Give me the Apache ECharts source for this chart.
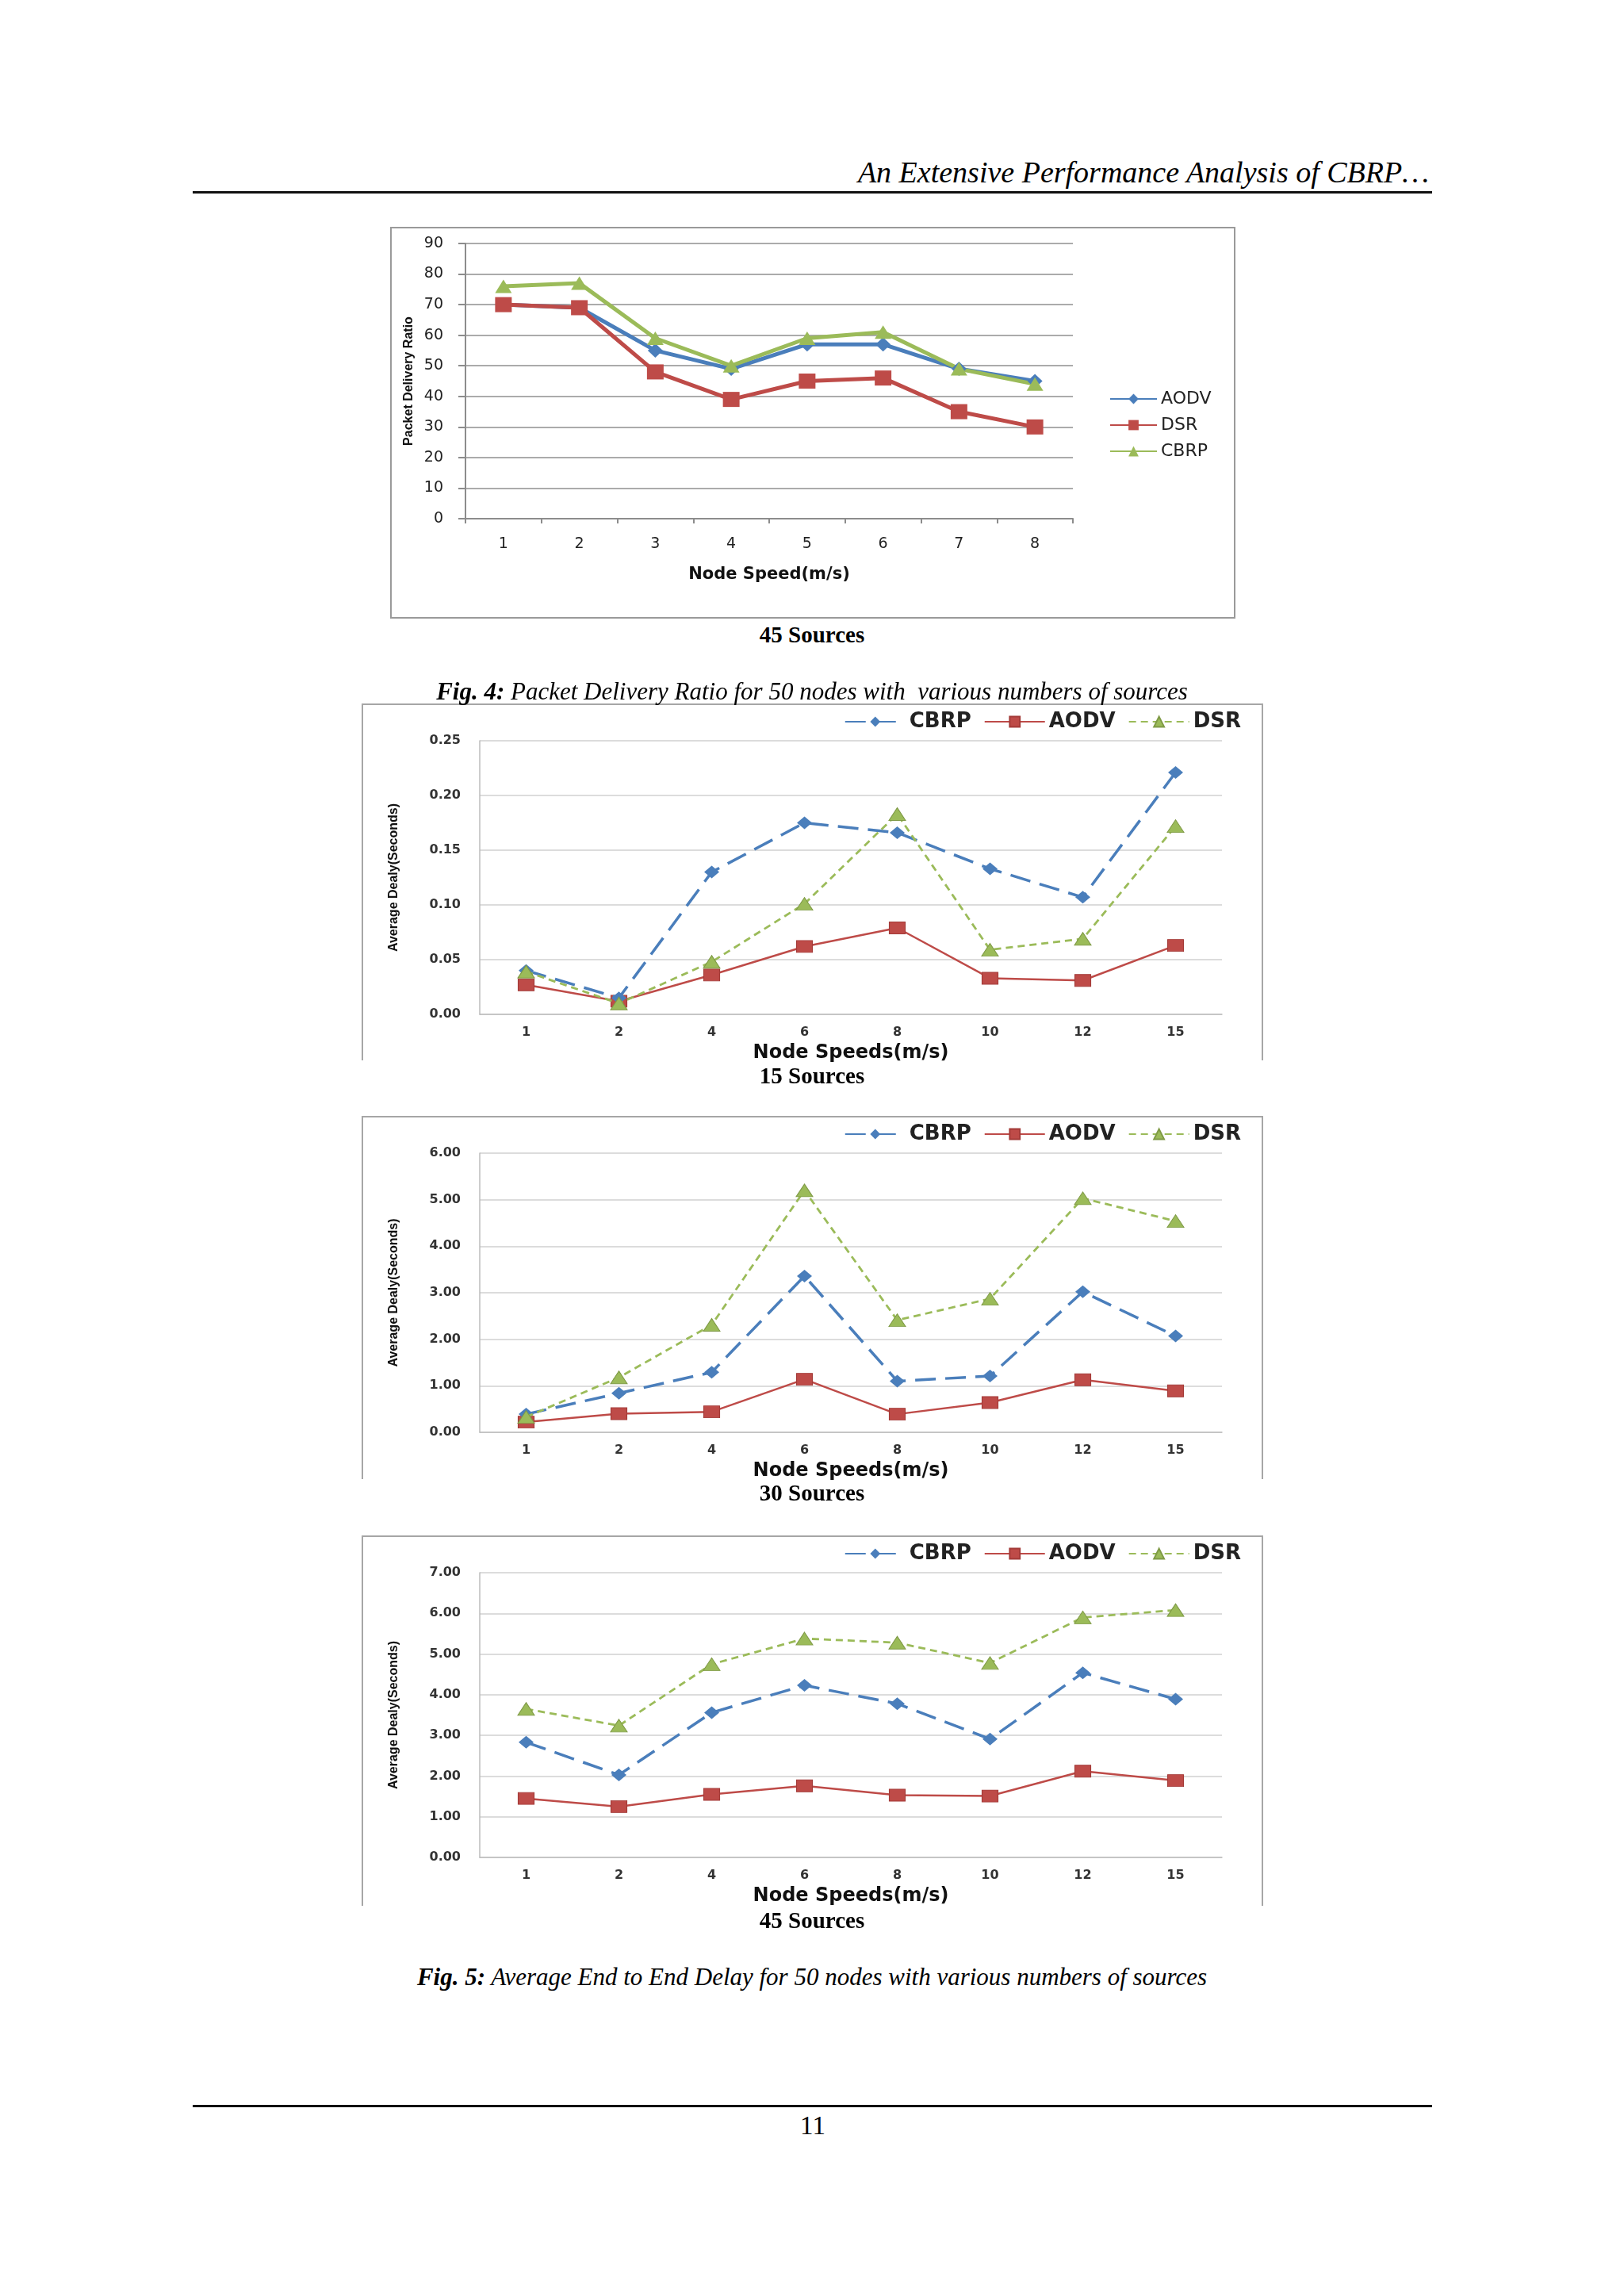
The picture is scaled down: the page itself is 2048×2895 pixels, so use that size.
<!DOCTYPE html>
<html>
<head>
<meta charset="utf-8">
<script src="https://cdn.jsdelivr.net/npm/echarts@6/dist/echarts.min.js"></script>
<style>
  html, body { margin:0; padding:0; background:#ffffff; }
  #page { position:relative; width:2048px; height:2895px; background:#ffffff; overflow:hidden; }
  .chart { position:absolute; }
  .txt { position:absolute; white-space:pre; font-family:"Liberation Serif","Times New Roman",serif; color:#000; line-height:1; }
  .rule { position:absolute; background:#111; }
</style>
</head>
<body>
<div id="page">
  <div class="chart" id="c1" style="left:492px; top:286px; width:1066px; height:494px;"></div>
  <div class="chart" id="c2" style="left:456px; top:887px; width:1137px; height:470px;"></div>
  <div class="chart" id="c3" style="left:456px; top:1407px; width:1137px; height:470px;"></div>
  <div class="chart" id="c4" style="left:456px; top:1936px; width:1137px; height:480px;"></div>

  <div class="txt" id="hdr" style="right:246px; top:198px; font-size:38px; font-style:italic;">An Extensive Performance Analysis of CBRP…</div>
  <div class="rule" style="left:243px; top:241px; width:1563px; height:3px;"></div>

  <div class="txt cap" style="left:0; width:2048px; text-align:center; top:786px; font-size:29px; font-weight:bold;">45 Sources</div>
  <div class="txt" style="left:0; width:2048px; text-align:center; top:856px; font-size:31px; font-style:italic;"><b>Fig. 4:</b> Packet Delivery Ratio for 50 nodes with  various numbers of sources</div>

  <div class="txt" style="left:0; width:2048px; text-align:center; top:1342px; font-size:29px; font-weight:bold;">15 Sources</div>
  <div class="txt" style="left:0; width:2048px; text-align:center; top:1868px; font-size:29px; font-weight:bold;">30 Sources</div>
  <div class="txt" style="left:0; width:2048px; text-align:center; top:2407px; font-size:29px; font-weight:bold;">45 Sources</div>
  <div class="txt" style="left:0; width:2048px; text-align:center; top:2477px; font-size:31px; font-style:italic;"><b>Fig. 5:</b> Average End to End Delay for 50 nodes with various numbers of sources</div>

  <div class="rule" style="left:243px; top:2654px; width:1563px; height:3px;"></div>
  <div class="txt" style="left:0; width:2050px; text-align:center; top:2664px; font-size:33px;">11</div>
</div>
<script>
// ---------- data ----------
const pdrCategories = ['1', '2', '3', '4', '5', '6', '7', '8'];
const pdrAODV = [70, 69, 55, 49, 57, 57, 49, 45];
const pdrDSR  = [70, 69, 48, 39, 45, 46, 35, 30];
const pdrCBRP = [76, 77, 59, 50, 59, 61, 49, 44];

const speedCategories = ['1', '2', '4', '6', '8', '10', '12', '15'];

const delay15CBRP = [0.040, 0.015, 0.130, 0.175, 0.166, 0.133, 0.107, 0.221];
const delay15AODV = [0.027, 0.012, 0.036, 0.062, 0.079, 0.033, 0.031, 0.063];
const delay15DSR  = [0.039, 0.010, 0.048, 0.101, 0.183, 0.059, 0.069, 0.172];

const delay30CBRP = [0.39, 0.84, 1.29, 3.36, 1.10, 1.21, 3.02, 2.07];
const delay30AODV = [0.22, 0.40, 0.44, 1.14, 0.39, 0.64, 1.13, 0.89];
const delay30DSR  = [0.33, 1.18, 2.31, 5.20, 2.41, 2.87, 5.03, 4.54];

const delay45CBRP = [2.83, 2.03, 3.56, 4.23, 3.78, 2.91, 4.54, 3.89];
const delay45AODV = [1.45, 1.25, 1.55, 1.76, 1.53, 1.51, 2.12, 1.89];
const delay45DSR  = [3.65, 3.24, 4.75, 5.38, 5.28, 4.78, 5.90, 6.08];

const pdrAxis = { min: 0, max: 90, interval: 10 };
const delay15Axis = { min: 0, max: 0.25, interval: 0.05 };
const delay30Axis = { min: 0, max: 6, interval: 1 };
const delay45Axis = { min: 0, max: 7, interval: 1 };

// ---------- styles ----------
const BLUE = '#4A7EBB', RED = '#BE4B48', GREEN = '#9BBB59';
const SANS = '"DejaVu Sans", Verdana, sans-serif';

// ---------- chart 1: packet delivery ratio ----------
(function () {
  const el = document.getElementById('c1');
  const chart = echarts.init(el, null, { renderer: 'canvas' });
  const W = 1066, H = 494;
  chart.setOption({
    animation: false,
    backgroundColor: 'transparent',
    graphic: [{
      type: 'rect', shape: { x: 1, y: 1, width: W - 2, height: H - 2 },
      style: { fill: 'none', stroke: '#9a9a9a', lineWidth: 2 }, silent: true
    }],
    grid: { left: 95, top: 21, width: 766, height: 347, containLabel: false, outerBoundsMode: 'none' },
    legend: {
      orient: 'vertical', left: 902, top: 201, itemWidth: 59, itemHeight: 16, itemGap: 11,
      textStyle: { fontSize: 22, fontFamily: SANS, color: '#222' },
      data: ['AODV', 'DSR', 'CBRP']
    },
    xAxis: {
      type: 'category', data: pdrCategories, boundaryGap: true,
      axisLine: { lineStyle: { color: '#8c8c8c', width: 2 } },
      axisTick: { show: true, length: 6, lineStyle: { color: '#8c8c8c', width: 2 } },
      axisLabel: { margin: 23, fontSize: 19, fontFamily: SANS, color: '#222' },
      name: 'Node Speed(m/s)', nameLocation: 'middle', nameGap: 60,
      nameTextStyle: { fontSize: 21, fontWeight: 'bold', fontFamily: SANS, color: '#111' }
    },
    yAxis: {
      type: 'value', min: pdrAxis.min, max: pdrAxis.max, interval: pdrAxis.interval,
      axisLine: { show: true, lineStyle: { color: '#8c8c8c', width: 2 } },
      axisTick: { show: true, length: 9, lineStyle: { color: '#8c8c8c', width: 2 } },
      axisLabel: { margin: 28, fontSize: 19, fontFamily: SANS, color: '#222' },
      splitLine: { lineStyle: { color: '#ababab', width: 2 } },
      name: 'Packet Delivery Ratio', nameLocation: 'middle', nameGap: 62,
      nameTextStyle: { fontSize: 16, fontWeight: 'bold', fontFamily: '"Liberation Sans", Arial, sans-serif', color: '#111' }
    },
    series: [
      { name: 'AODV', type: 'line', data: pdrAODV, symbol: 'diamond', symbolSize: [19, 18],
        lineStyle: { width: 5, color: BLUE }, itemStyle: { color: BLUE } },
      { name: 'DSR', type: 'line', data: pdrDSR, symbol: 'rect', symbolSize: [21, 19],
        lineStyle: { width: 5, color: RED }, itemStyle: { color: RED } },
      { name: 'CBRP', type: 'line', data: pdrCBRP, symbol: 'triangle', symbolSize: [21, 17],
        lineStyle: { width: 5, color: GREEN }, itemStyle: { color: GREEN } }
    ]
  });
})();

// ---------- charts 2-4: average delay ----------
function delayChart(id, frameH, gridH, axis, cbrp, aodv, dsr) {
  const chart = echarts.init(document.getElementById(id), null, { renderer: 'canvas' });
  const W = 1137;
  chart.setOption({
    animation: false,
    backgroundColor: 'transparent',
    graphic: [{
      type: 'polyline', shape: { points: [[1, frameH], [1, 1], [W - 1, 1], [W - 1, frameH]] },
      style: { fill: 'none', stroke: '#a6a6a6', lineWidth: 2 }, silent: true
    }],
    grid: { left: 149, top: 47, width: 936, height: gridH, containLabel: false, outerBoundsMode: 'none' },
    legend: {
      right: 23, top: 5, itemWidth: 76, itemHeight: 16, itemGap: 16,
      textStyle: { fontSize: 26, fontWeight: 'bold', fontFamily: SANS, color: '#222' },
      data: ['CBRP', 'AODV', 'DSR']
    },
    xAxis: {
      type: 'category', data: speedCategories, boundaryGap: true,
      axisLine: { lineStyle: { color: '#bdbdbd', width: 1.5 } },
      axisTick: { show: false },
      axisLabel: { margin: 15, fontSize: 16, fontWeight: 'bold', fontFamily: SANS, color: '#333' },
      name: 'Node Speeds(m/s)', nameLocation: 'middle', nameGap: 37,
      nameTextStyle: { fontSize: 24, fontWeight: 'bold', fontFamily: SANS, color: '#111' }
    },
    yAxis: {
      type: 'value', min: axis.min, max: axis.max, interval: axis.interval,
      axisLine: { show: true, lineStyle: { color: '#bdbdbd', width: 1.5 } },
      axisTick: { show: false },
      axisLabel: { margin: 24, fontSize: 16, fontWeight: 'bold', fontFamily: SANS, color: '#333',
        formatter: v => v.toFixed(2) },
      splitLine: { lineStyle: { color: '#d0d0d0', width: 1.5 } },
      name: 'Average Dealy(Seconds)', nameLocation: 'middle', nameGap: 100,
      nameTextStyle: { fontSize: 16, fontWeight: 'bold', fontFamily: '"Liberation Sans", Arial, sans-serif', color: '#111' }
    },
    series: [
      { name: 'CBRP', type: 'line', data: cbrp, symbol: 'diamond', symbolSize: [19, 16], z: 3,
        lineStyle: { width: 3.5, color: BLUE, type: [26, 12] }, itemStyle: { color: BLUE } },
      { name: 'AODV', type: 'line', data: aodv, symbol: 'rect', symbolSize: [20, 15], z: 2,
        lineStyle: { width: 2.5, color: RED }, itemStyle: { color: RED, borderColor: '#a33b38', borderWidth: 1 } },
      { name: 'DSR', type: 'line', data: dsr, symbol: 'triangle', symbolSize: [21, 16], z: 4,
        lineStyle: { width: 2.8, color: GREEN, type: [9, 6] }, itemStyle: { color: GREEN, borderColor: '#7f9a46', borderWidth: 1 } }
    ]
  });
}
delayChart('c2', 450, 345, delay15Axis, delay15CBRP, delay15AODV, delay15DSR);
delayChart('c3', 458, 352, delay30Axis, delay30CBRP, delay30AODV, delay30DSR);
delayChart('c4', 467, 359, delay45Axis, delay45CBRP, delay45AODV, delay45DSR);
</script>
</body>
</html>
